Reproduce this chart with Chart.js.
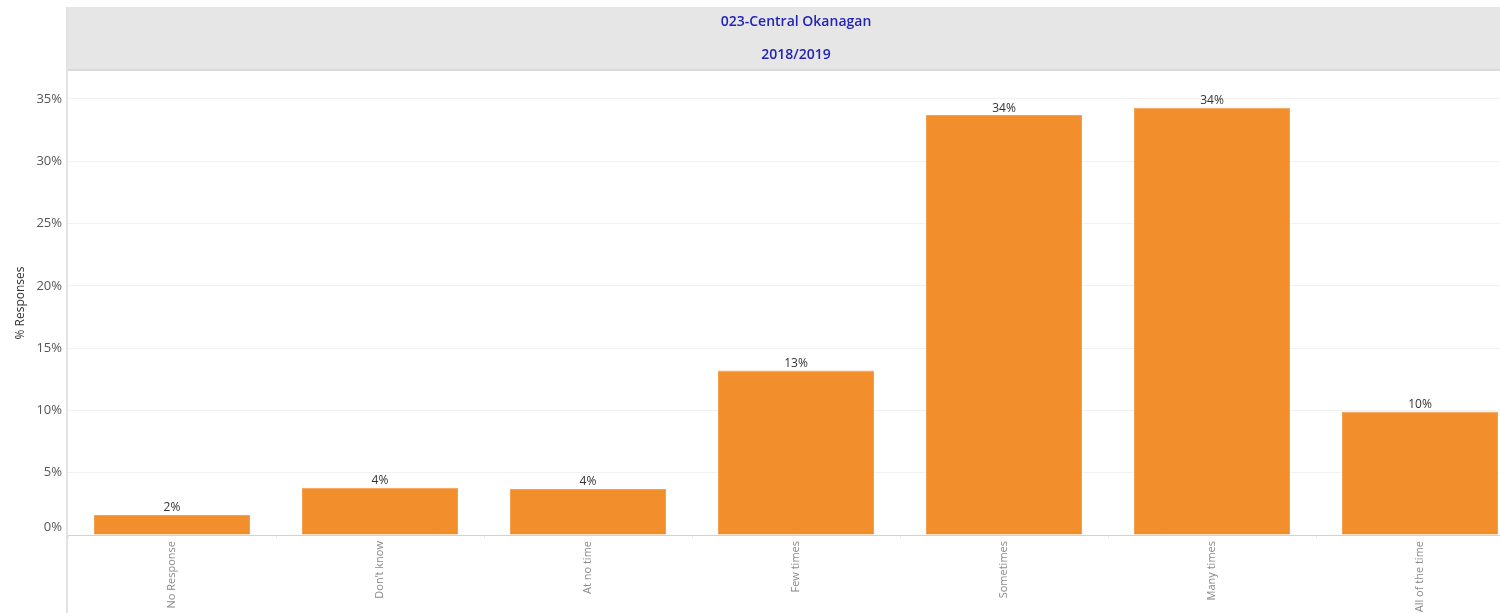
<!DOCTYPE html>
<html>
<head>
<meta charset="utf-8">
<script src="https://cdn.jsdelivr.net/npm/chart.js@4.4.1/dist/chart.umd.min.js"></script>
<style>
  html, body { margin: 0; padding: 0; background: #fff; overflow: hidden; }
  #wrap { width: 1530px; height: 613px; }
</style>
</head>
<body>
<div id="wrap"><canvas id="chart"></canvas></div>
<script>
// data
const categories = ['No Response', 'Don\u2019t know', 'At no time', 'Few times', 'Sometimes', 'Many times', 'All of the time'];
const responses = [1.6, 3.8, 3.7, 13.2, 33.7, 34.3, 9.9];
const yTicks = [0, 5, 10, 15, 20, 25, 30, 35];
const headerLines = ['023-Central Okanagan', '2018/2019'];

const FONT = '"Open Sans", "Liberation Sans", sans-serif';

// gray header band, title text, left rule and value labels
const decor = {
    id: 'decor',
    beforeDraw(chart) {
        const { ctx, chartArea } = chart;
        ctx.save();
        ctx.fillStyle = '#e6e6e6';
        ctx.fillRect(chartArea.left, 7, chart.width - chartArea.left, chartArea.top - 7);
        ctx.fillStyle = '#d9d9d9';
        ctx.fillRect(chartArea.left, chartArea.top - 2, chart.width - chartArea.left, 2);

        const cx = (chartArea.left + chartArea.right) / 2;
        ctx.fillStyle = '#2323b8';
        ctx.font = '600 14px ' + FONT;
        ctx.textAlign = 'center';
        ctx.textBaseline = 'middle';
        ctx.fillText(headerLines[0], cx, 22);
        ctx.fillText(headerLines[1], cx, 55);
        ctx.restore();
    },
    afterDraw(chart) {
        const { ctx, chartArea } = chart;
        ctx.save();
        ctx.strokeStyle = '#e2e2e2';
        ctx.lineWidth = 2;
        ctx.beginPath();
        ctx.moveTo(chartArea.left - 1, 7);
        ctx.lineTo(chartArea.left - 1, chart.height);
        ctx.stroke();

        // 0% label sits just above the axis, as in the reference
        ctx.fillStyle = '#555';
        ctx.font = '13px ' + FONT;
        ctx.textAlign = 'right';
        ctx.textBaseline = 'middle';
        ctx.fillText(yTicks[0] + '%', chartArea.left - 6, chartArea.bottom - 8);

        const meta = chart.getDatasetMeta(0);
        ctx.fillStyle = '#333';
        ctx.font = '12px ' + FONT;
        ctx.textAlign = 'center';
        ctx.textBaseline = 'bottom';
        meta.data.forEach((bar, i) => {
            ctx.fillText(Math.round(responses[i]) + '%', bar.x, bar.y - 1);
        });
        ctx.restore();
    }
};

new Chart(document.getElementById('chart'), {
    type: 'bar',
    data: {
        labels: categories,
        datasets: [{
            data: responses,
            backgroundColor: '#f28e2b',
            borderColor: '#f4a04f',
            borderWidth: 1,
            categoryPercentage: 1,
            barPercentage: 0.75
        }]
    },
    options: {
        responsive: true,
        maintainAspectRatio: false,
        animation: false,
        layout: { padding: { top: 71, right: 6, left: 0, bottom: 0 } },
        plugins: {
            legend: { display: false },
            tooltip: { enabled: false }
        },
        scales: {
            x: {
                grid: {
                    display: true,
                    drawOnChartArea: false,
                    drawTicks: true,
                    tickLength: 4,
                    color: '#ececec',
                    offset: true
                },
                border: { color: '#d2d2d2', width: 1 },
                ticks: {
                    color: '#8a8a8a',
                    font: { family: FONT, size: 11 },
                    minRotation: 90,
                    maxRotation: 90,
                    autoSkip: false,
                    padding: 2
                },
                afterFit(scale) { scale.height = 78; }
            },
            y: {
                min: 0,
                max: 37.24,
                afterBuildTicks(scale) {
                    scale.ticks = yTicks.map(v => ({ value: v }));
                },
                grid: { color: '#f1f1f1', drawTicks: false },
                border: { display: false },
                ticks: {
                    color: '#555',
                    font: { family: FONT, size: 13 },
                    padding: 6,
                    callback: v => (v === 0 ? '' : v + '%')
                },
                title: {
                    display: true,
                    text: '% Responses',
                    color: '#333',
                    font: { family: FONT, size: 12 },
                    padding: { top: 13, bottom: 0 }
                },
                afterFit(scale) { scale.width = 68; }
            }
        }
    },
    plugins: [decor]
});
</script>
</body>
</html>
